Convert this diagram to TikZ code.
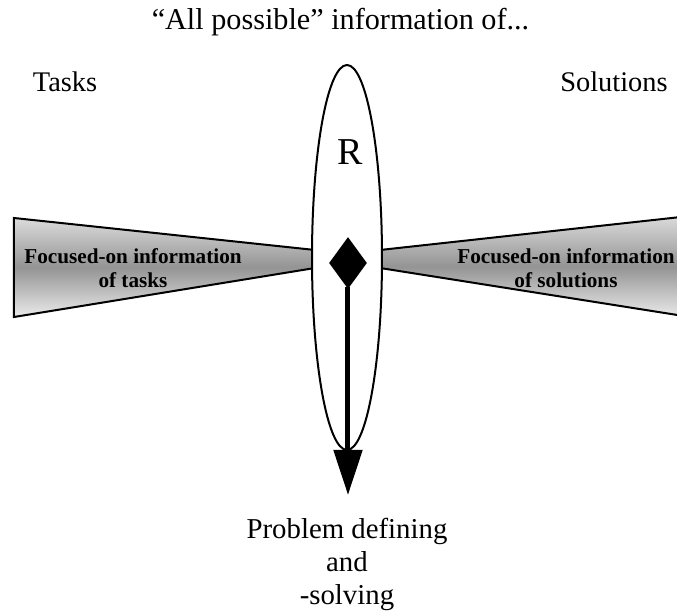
\documentclass[tikz,border=0pt]{standalone}
\usepackage{fontspec}
\setmainfont{Liberation Serif}
\usetikzlibrary{shapes.geometric,arrows.meta}
\tikzset{
  wedge/.style={draw=black, line width=1pt, line join=miter,
    top color=black!14, bottom color=black!8, middle color=black!42},
  wedgetext/.style={inner sep=0pt, align=center,
    font=\bfseries\fontsize{10.6}{12}\selectfont},
  label/.style={inner sep=0pt, anchor=base, font=\fontsize{14.2}{17}\selectfont},
  region/.style={ellipse, draw, line width=1pt, fill=white,
    minimum width=35pt, minimum height=192.5pt, inner sep=0pt},
  marker/.style={diamond, fill=black, inner sep=0pt, aspect=1,
    minimum width=19pt, minimum height=26pt},
  flow/.style={line width=2.5pt,
    -{Triangle[length=22.5pt,width=14pt]}}
}
\begin{document}
\begin{tikzpicture}[x=0.5pt,y=-0.5pt]
  \clip (0,0) rectangle (677,615);

  % headings
  \node[label, font=\fontsize{15.1}{18}\selectfont] (title) at (340.5,29.5)
    {``All possible'' information of...};
  \node[label] (tasks) at (65,92) {Tasks};
  \node[label] (sols) at (614,92) {Solutions};

  % funnels of focused information
  \path[wedge] (14,218) -- (315,250) -- (315,268) -- (14,317) -- cycle;
  \path[wedge] (380,250) -- (690,216) -- (690,317) -- (380,268) -- cycle;

  % the space of everything
  \node[region] (space) at (347,257.5) {};
  \node[inner sep=0pt, anchor=base, font=\fontsize{19}{22}\selectfont] (r) at (350,165) {R};

  \node[wedgetext] (ftask) at (133,268) {Focused-on information\\of tasks};
  \node[wedgetext] (fsol) at (566,268) {Focused-on information\\of solutions};

  % problem defining and solving
  \node[marker] (start) at (348,263) {};
  \coordinate (tip) at (348,495);
  \draw[flow] ([yshift=1pt]start.south) -- (tip);

  \node[inner sep=0pt, align=center,
        font=\fontsize{14.4}{16.5}\selectfont] (pds) at (347,564.5)
    {Problem defining\\and\\-solving};
\end{tikzpicture}
\end{document}
